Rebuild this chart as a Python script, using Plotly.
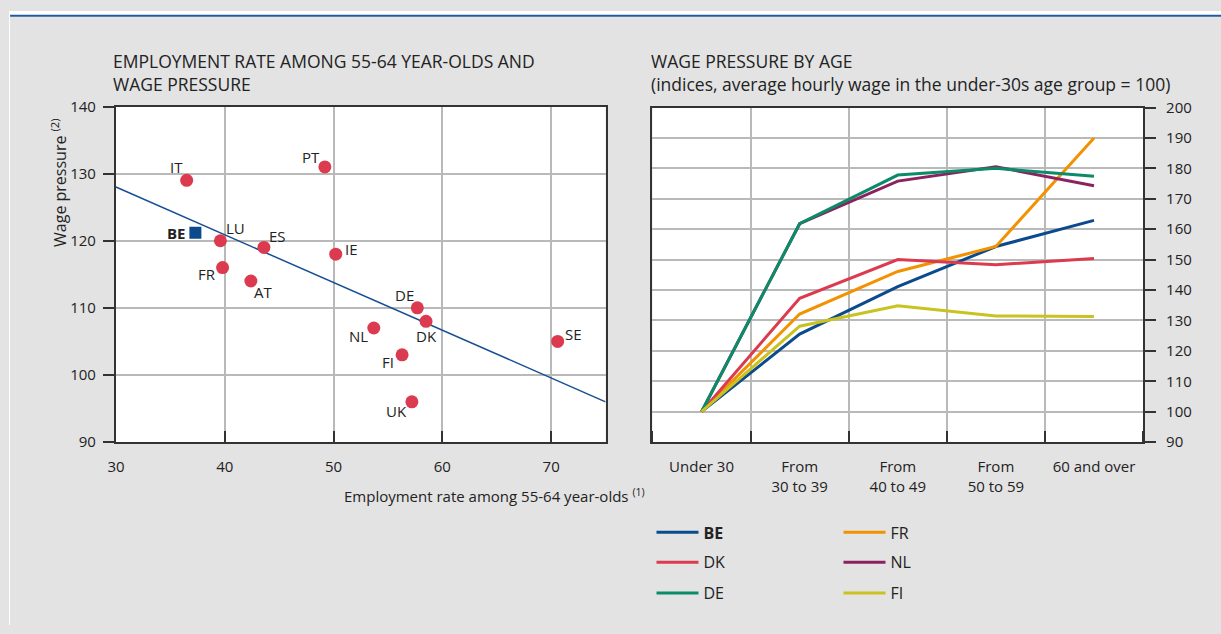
import plotly.graph_objects as go

# --- Left panel: employment rate of 55-64 year-olds vs wage pressure ---
countries = ["IT", "PT", "LU", "ES", "IE", "FR", "AT", "DE", "DK", "NL", "FI", "UK", "SE"]
employment_rate = [36.5, 49.2, 39.6, 43.6, 50.2, 39.8, 42.4, 57.7, 58.5, 53.7, 56.3, 57.2, 70.6]
wage_pressure = [129.0, 131.0, 120.0, 119.0, 118.0, 116.0, 114.0, 110.0, 108.0, 107.0, 103.0, 96.0, 105.0]

be_employment = [37.3]
be_wage = [121.2]

trend_x = [30, 75]
trend_y = [128.0, 96.0]

# --- Right panel: wage index by age group (under 30 = 100) ---
age_groups = ["Under 30", "From<br>30 to 39", "From<br>40 to 49", "From<br>50 to 59", "60 and over"]
series = {
    "BE": [100, 125.5, 141.1, 154.3, 162.9],
    "FR": [100, 132.1, 146.1, 154.3, 190.0],
    "DK": [100, 137.3, 150.0, 148.3, 150.4],
    "NL": [100, 161.8, 175.8, 180.5, 174.3],
    "DE": [100, 161.8, 177.8, 180.0, 177.4],
    "FI": [100, 128.1, 134.8, 131.5, 131.3],
}
series_colors = {
    "BE": "#0b4a8c",
    "FR": "#f39200",
    "DK": "#dc3b4f",
    "NL": "#8c2160",
    "DE": "#0a8c68",
    "FI": "#c9c21f",
}
# legend rows: (BE, FR), (DK, NL), (DE, FI)
legend_of = {"BE": "legend", "FR": "legend", "DK": "legend2", "NL": "legend2",
             "DE": "legend3", "FI": "legend3"}

# label offsets (px) for the scatter labels, right/up positive
label_shift = {
    "IT": (-10, 13), "PT": (-14, 10), "LU": (15, 13), "ES": (14, 11), "IE": (16, 5),
    "FR": (-16, -6), "AT": (12, -11), "DE": (-13, 13), "DK": (0, -15), "NL": (-15, -8),
    "FI": (-14, -7), "UK": (-15, -9), "SE": (16, 7),
}

W, H = 1221, 634
# the page body keeps an 8px margin around the figure; layout positions below
# are given in final window pixels and converted to paper fractions
MARGIN = 8
SX = W / (W + MARGIN)
SY = H / (H + 2 * MARGIN)
FONT = "Open Sans"
TXT = "#222222"
GRID = "#b9b9b9"
AXIS = "#333333"


def px_x(v):
    return (v / SX - MARGIN) / W


def px_y(v):
    return 1 - (v / SY - MARGIN) / H


fig = go.Figure()

fig.add_trace(go.Scatter(
    x=trend_x, y=trend_y, mode="lines", line=dict(color="#174f93", width=1.5),
    xaxis="x", yaxis="y", showlegend=False, hoverinfo="skip"))
fig.add_trace(go.Scatter(
    x=employment_rate, y=wage_pressure, mode="markers", text=countries,
    marker=dict(color="#dc3b4f", size=13, line=dict(width=0)),
    xaxis="x", yaxis="y", showlegend=False))
fig.add_trace(go.Scatter(
    x=be_employment, y=be_wage, mode="markers",
    marker=dict(color="#0b4a8c", size=12, symbol="square", line=dict(width=0)),
    xaxis="x", yaxis="y", showlegend=False))

for name in ["BE", "FR", "DK", "NL", "DE", "FI"]:
    fig.add_trace(go.Scatter(
        x=list(range(len(age_groups))), y=series[name], mode="lines",
        name=f"<b>{name}</b>" if name == "BE" else name,
        line=dict(color=series_colors[name], width=3),
        xaxis="x2", yaxis="y2", legend=legend_of[name]))

annotations = []
for c, xv, yv in zip(countries, employment_rate, wage_pressure):
    dx, dy = label_shift[c]
    annotations.append(dict(x=xv, y=yv, xref="x", yref="y", text=c, showarrow=False,
                            xshift=dx, yshift=dy, font=dict(size=15, color=TXT, family=FONT)))
annotations.append(dict(x=be_employment[0], y=be_wage[0], xref="x", yref="y", text="<b>BE</b>",
                        showarrow=False, xanchor="right", xshift=-8,
                        font=dict(size=15, color=TXT, family=FONT)))

annotations += [
    dict(x=px_x(110), y=px_y(70), xref="paper", yref="paper", xanchor="left", yanchor="middle",
         align="left", showarrow=False,
         text="EMPLOYMENT RATE AMONG 55-64 YEAR-OLDS AND<br>WAGE PRESSURE",
         font=dict(size=17.5, color=TXT, family=FONT)),
    dict(x=px_x(649), y=px_y(70), xref="paper", yref="paper", xanchor="left", yanchor="middle",
         align="left", showarrow=False,
         text="WAGE PRESSURE BY AGE<br>(indices, average hourly wage in the under-30s age group = 100)",
         font=dict(size=17.5, color=TXT, family=FONT)),
    dict(x=px_x(58), y=px_y(181), xref="paper", yref="paper", textangle=-90, showarrow=False,
         xanchor="center", yanchor="middle",
         text="Wage pressure <sup>(2)</sup>", font=dict(size=16, color=TXT, family=FONT)),
    dict(x=px_x(341), y=px_y(496), xref="paper", yref="paper", xanchor="left", yanchor="middle",
         showarrow=False, text="Employment rate among 55-64 year-olds <sup>(1)</sup>",
         font=dict(size=15, color=TXT, family=FONT)),
]

axis_common = dict(showline=True, linecolor=AXIS, linewidth=2, mirror=True,
                   gridcolor=GRID, gridwidth=2, zeroline=False,
                   tickfont=dict(size=15, color=TXT, family=FONT),
                   tickcolor=AXIS, tickwidth=2)

legend_common = dict(orientation="h", xanchor="left", yanchor="middle",
                     bgcolor="rgba(0,0,0,0)", entrywidth=130, entrywidthmode="pixels",
                     font=dict(size=16, color=TXT, family=FONT), itemwidth=42)

fig.update_layout(
    width=W, height=H, margin=dict(l=0, r=0, t=0, b=0),
    paper_bgcolor="#e3e3e3", plot_bgcolor="#ffffff",
    font=dict(family=FONT, color=TXT),
    xaxis=dict(domain=[px_x(115), px_x(605)], range=[30, 75], tick0=30, dtick=10,
               ticks="inside", ticklen=11, anchor="y", ticklabelstandoff=10, **axis_common),
    yaxis=dict(domain=[px_y(442), px_y(104)], range=[90, 140], dtick=10,
               ticks="outside", ticklen=11, anchor="x", ticklabelstandoff=4, **axis_common),
    xaxis2=dict(domain=[px_x(652), px_x(1143)], range=[-0.5, 4.5],
                tickvals=list(range(len(age_groups))), ticktext=age_groups,
                ticks="", showgrid=False, anchor="y2", ticklabelstandoff=10,
                minor=dict(tick0=0.5, dtick=1, ticks="inside", ticklen=11, tickwidth=2,
                           tickcolor=AXIS, showgrid=True, gridcolor=GRID, gridwidth=2),
                **{k: v for k, v in axis_common.items() if k not in ("gridcolor", "gridwidth")}),
    yaxis2=dict(domain=[px_y(442), px_y(105)], range=[90, 200], dtick=10, side="right",
                ticks="outside", ticklen=11, anchor="x2", ticklabelstandoff=7, **axis_common),
    legend=dict(x=px_x(651), y=px_y(533), **legend_common),
    legend2=dict(x=px_x(651), y=px_y(563), **legend_common),
    legend3=dict(x=px_x(651), y=px_y(594), **legend_common),
    annotations=annotations,
    shapes=[
        dict(type="rect", xref="paper", yref="paper", x0=0, x1=1, y0=px_y(13.5), y1=1,
             fillcolor="#ffffff", line=dict(width=0), layer="below"),
        dict(type="rect", xref="paper", yref="paper", x0=0, x1=px_x(9), y0=0, y1=1,
             fillcolor="#ffffff", line=dict(width=0), layer="below"),
        dict(type="line", xref="paper", yref="paper", x0=px_x(9), x1=1,
             y0=px_y(12.5), y1=px_y(12.5), line=dict(color="#1f5a9e", width=2)),
    ],
)

fig.write_html("out.html")
